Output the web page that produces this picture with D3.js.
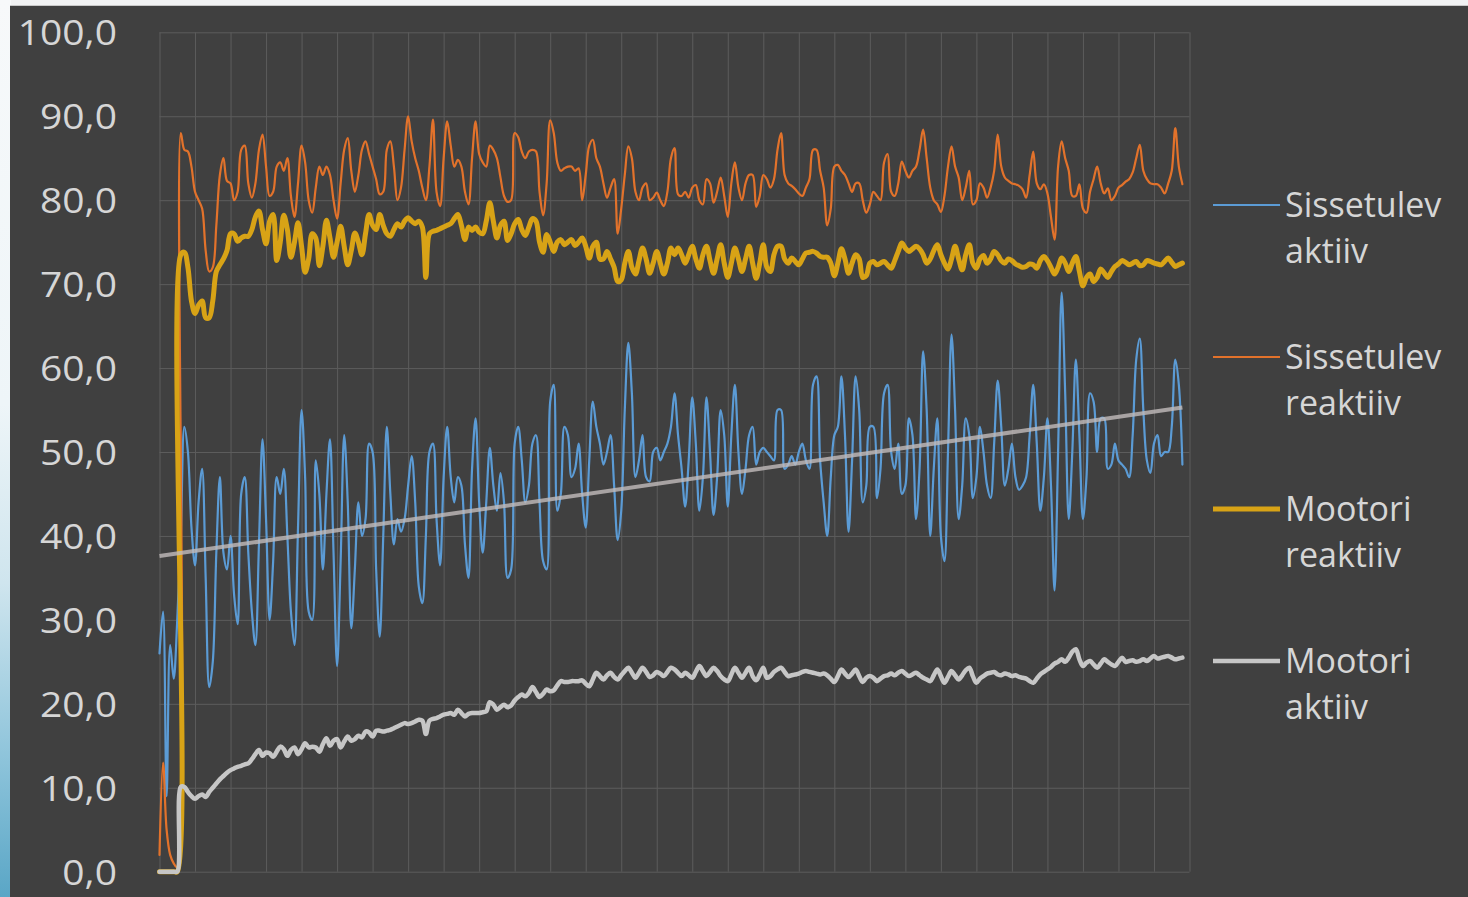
<!DOCTYPE html>
<html>
<head>
<meta charset="utf-8">
<script src="https://cdn.jsdelivr.net/npm/d3@7"></script>
<style>
  html, body { margin: 0; padding: 0; width: 1468px; height: 897px; overflow: hidden; background: #f2f4f5; }
  svg { display: block; }
</style>
</head>
<body>
<svg id="chart" width="1468" height="897"></svg>
<script>
// ---------------- DATA ----------------
const seriesNames = ["Sissetulev aktiiv", "Sissetulev reaktiiv", "Mootori reaktiiv", "Mootori aktiiv"];

const sissetulevAktiiv = [
  26, 31, 9, 27, 23, 30, 40, 53, 50, 41,
  36.5, 44, 48, 35, 22, 25, 38, 47, 38, 36,
  40, 33, 29.5, 45, 47, 38, 31, 27, 39, 51.5,
  42, 30, 37, 47, 45, 48, 40, 31, 27, 41,
  55, 47, 31, 30, 49, 45, 36, 45, 51.5, 38,
  24.5, 37, 52, 44, 29, 36, 44, 40, 42, 51,
  50, 36, 28, 40, 53, 45, 39, 42, 40.5, 42,
  46, 49.5, 44, 34, 32, 40, 50, 51, 42, 36.5,
  47, 53, 47, 44, 47, 46, 39, 35, 48, 54,
  44, 38, 44, 50.5, 46, 43, 47.5, 44, 35, 36,
  51, 53, 49, 44, 46, 51, 52, 44, 37, 36,
  56, 58, 43, 45, 53, 52, 47, 48, 51, 45,
  41, 49, 56, 53, 51, 48.5, 50, 52, 46, 39.5,
  43, 55, 63, 57, 47, 49, 52, 47, 46.5, 50,
  50.5, 49, 50, 51, 53, 57, 52, 48, 43.5, 49,
  56.5, 51, 43, 47, 56.5, 50, 42.5, 47, 55, 52,
  43.5, 52, 58, 50, 45, 48, 52, 53, 48.5, 50,
  50.5, 50, 49.5, 49, 55, 55, 48, 48.5, 49.5, 48.5,
  50, 51, 49, 48, 58, 59, 49, 44, 40, 47,
  52, 53, 59, 52, 40.5, 49, 59, 55, 44, 46,
  53, 53, 44.5, 48, 57, 58, 50, 48, 51, 45,
  46, 54, 52, 42, 48, 62, 55, 40, 48, 54,
  40, 37, 50, 64, 55, 42, 46, 54, 52, 44.5,
  47, 53, 50, 46, 44.5, 51, 58.5, 53, 46, 48,
  51, 47, 45.5, 46, 47, 52, 58, 51, 43, 47,
  54, 46, 33.5, 50, 69, 57, 42, 50, 61, 52,
  42, 47, 57, 56, 50, 54, 54, 48, 48.5, 51,
  49, 48.5, 48, 47, 52, 61, 63.5, 55, 49, 47.5,
  51, 52, 49.5, 50, 50, 53, 61, 58, 48.5
];

const sissetulevReaktiiv = [
  2, 13, 5, 2, 1, 0.5, 88, 86, 85.8, 84,
  81, 80, 79, 74, 71.5, 72, 77, 83, 85, 82.3,
  82, 80, 81, 86, 86.5, 82, 80.3, 82, 86, 87.8,
  84, 80.5, 81, 84, 84.5, 83.5, 85, 80.5, 78, 82,
  86.5, 84.5, 80, 78.5, 81.5, 84, 83, 84, 83, 80,
  77.8, 82, 86, 87.4, 83.5, 81, 83, 86, 87, 85.5,
  84, 82.5, 80.7, 81, 86, 87, 84, 80, 81.5, 86,
  90, 87, 85, 83.5, 81.5, 80, 84, 89.6, 81, 79.3,
  85, 89.4, 86.5, 84, 84.8, 84, 81, 79.5, 85, 89.4,
  85.5, 84.5, 84, 86.5, 86, 85, 82.7, 80.5, 79.8, 80,
  88, 87.5, 85.8, 85, 85.8, 86, 85.8, 81, 78.2, 82,
  89.5, 88, 84.5, 83.5, 83.8, 84, 84, 83.5, 83.8, 80,
  83, 86.5, 87.2, 85, 84, 82, 80.3, 81.5, 82.5, 76,
  79, 83, 86.4, 85, 81, 80, 81.5, 82, 80, 80.3,
  80.9, 80, 79.3, 81, 85, 86.2, 80.7, 80.5, 81, 80.3,
  81.5, 81.8, 80, 79.5, 82.5, 82, 79.7, 81, 82.7, 80.5,
  78, 82, 84.5, 81.5, 80, 82, 83, 83, 79.2, 80.5,
  83, 82.5, 81.5, 82.5, 86, 88, 83, 82, 81.7, 81.3,
  80.8, 80.5, 81.5, 82.5, 86, 86, 83.5, 81.5, 77, 79,
  84, 84.2, 83.5, 83, 82, 81, 82, 82, 80, 78.5,
  79.5, 81, 80.5, 80, 84.5, 85.5, 81, 80.5, 82, 84.6,
  83.5, 82.7, 83.5, 84, 86, 88.4, 85, 81.5, 80, 79.5,
  78.6, 80.5, 84, 86.4, 84, 82.7, 80, 81.5, 83.5, 79.5,
  80, 82, 81.5, 80.3, 81.5, 83.5, 87.8, 84, 82.7, 82.3,
  82, 81.9, 81.7, 81.3, 80.3, 83, 85.8, 82, 81.3, 81.9,
  80.8, 78, 75.3, 84, 87, 85, 83.5, 80.5, 80.5, 81.9,
  79, 78.5, 81, 82.5, 84, 82, 80.8, 81.4, 80, 80.5,
  81.5, 81.8, 82.2, 82.5, 83.3, 85, 86.6, 83.5, 82.5, 82,
  81.9, 81.9, 81.5, 80.8, 82, 83.5, 88.6, 84, 81.9
];

const mootoriReaktiiv = [
  0, 0, 0, 0, 0, 0, 73.5, 73.8, 72, 68,
  66.5, 67.5, 68, 66, 66, 68, 71.5, 72.3, 73, 74,
  76, 76, 75.1, 75.5, 75.7, 75.7, 76.5, 78, 78.7, 76.5,
  74.8, 77.5, 78.3, 72.8, 75, 78.2, 76.5, 73.2, 75, 77.3,
  74.5, 71.4, 73, 76, 75.5, 72.2, 74.5, 77.6, 75.5, 73.2,
  75, 76.9, 74.5, 72.3, 74, 76.1, 75, 73.5, 76, 78.3,
  77, 76.5, 78.3, 77, 76, 75.7, 76.5, 77.2, 76.8, 77.5,
  77.9, 77.5, 77.2, 77.5, 76.8, 70.8, 76, 76.3, 76.4, 76.6,
  76.8, 77, 77.2, 77.8, 78.3, 77, 75.3, 76.8, 76.4, 76.8,
  76.2, 76, 77.5, 79.7, 77.5, 75.5, 77, 77.5, 75.2, 76,
  77.2, 77.7, 76.5, 75.8, 76.8, 77.8, 77.5, 75, 73.8, 75.9,
  75, 73.9, 75, 75.3, 74.7, 75, 75.3, 74.6, 75, 75.5,
  74.5, 73.1, 74.5, 75, 73, 73, 73.9, 73, 72, 70.3,
  70.5, 72.5, 73.9, 72, 71.2, 72.8, 74.3, 73, 71.3, 72.5,
  73.9, 72.5, 71.2, 72.5, 74.3, 73.5, 74.3, 73.5, 72.5, 73.5,
  74.5, 73, 71.9, 73.5, 74.5, 72.8, 71.3, 73, 74.7, 72.5,
  70.8, 72.5, 74.3, 73, 71.5, 73, 74.5, 72.5, 70.7, 72.5,
  74.7, 72, 71.5, 73.5, 74.5, 74.5, 73, 72.5, 73.1, 72.7,
  72.3, 73, 73.7, 73.8, 73.9, 73.7, 73.3, 73.2, 73.2, 72.5,
  71, 72.5, 74.2, 73, 71.3, 72.5, 73.5, 73, 70.8, 71,
  72.5, 72.7, 72.3, 72.5, 72.7, 72.3, 71.9, 72.8, 73.9, 74.9,
  74.3, 73.9, 74.2, 74.5, 74.2, 73.5, 72.5, 73, 74, 74.7,
  73.5, 72.5, 71.8, 73, 74.5, 73, 71.7, 73.5, 74.7, 72.5,
  71.9, 73, 73.4, 72.5, 73, 73.9, 73.5, 72.8, 72.5, 73,
  72.8, 72.4, 72.2, 72, 72.1, 72.4, 72.3, 71.9, 72.8, 73.3,
  72.8, 72, 71.2, 72, 73.1, 72.5, 71.5, 72.5, 73.3, 71.5,
  69.8, 70.8, 71.2, 70.3, 70.8, 71.8, 71.3, 70.8, 71.5, 72.1,
  72.4, 72.8, 72.6, 72.3, 72.5, 72.7, 72.2, 72.3, 72.8, 72.7,
  72.5, 72.4, 72.3, 72.7, 73.1, 72.6, 72.1, 72.3, 72.5
];

const mootoriAktiiv = [
  0, 0, 0, 0, 0, 0, 10.1, 10.1, 9.5, 9,
  8.7, 9, 9.2, 8.9, 9.5, 10, 10.5, 11, 11.4, 11.8,
  12.1, 12.3, 12.5, 12.6, 12.8, 12.9, 13.4, 14, 14.5, 13.8,
  14.2, 14.1, 13.7, 14.3, 14.9, 14.6, 13.8, 14.5, 14.8, 14,
  14.6, 15.3, 14.8, 14.9, 14.8, 14.3, 15.2, 15.9, 15, 15.6,
  15.8, 14.8, 15.5, 16.1, 15.6, 15.8, 16.2, 16, 16.7, 16.6,
  16.1, 16.8, 16.8, 16.7, 16.8, 16.9, 17.1, 17.3, 17.5, 17.7,
  17.6, 17.7, 17.9, 18.1, 18, 16.4, 18, 18.2, 18.3, 18.5,
  18.7, 18.8, 18.9, 18.7, 19.3, 18.9, 18.5, 18.8, 18.9, 18.9,
  18.9, 19, 19.1, 20.2, 19.9, 19.3, 19.6, 19.9, 19.6, 19.8,
  20.4, 20.8, 21.1, 20.9, 21.3, 22, 21.4, 20.8, 21.2, 21.7,
  21.5, 21.6, 22.2, 22.7, 22.6, 22.6, 22.7, 22.7, 22.7, 22.8,
  22.4, 22.1, 22.9, 23.7, 23.3, 22.9, 23.4, 23.7, 23.2, 22.9,
  23.4, 23.9, 24.3, 23.7, 23.1, 23.7, 24.3, 23.8, 23.2, 23.4,
  23.8, 23.6, 23.3, 23.8, 24.3, 24.1, 23.7, 23.3, 23.7, 23.4,
  23.1, 23.8, 24.5, 23.9, 23.3, 23.8, 24.3, 23.9, 23.3, 22.9,
  22.7, 23.5, 24.3, 23.7, 23.1, 23.7, 24.3, 23.3, 22.8, 23.5,
  24.3, 23.1, 23.3, 23.8, 24.1, 24.3, 23.8, 23.3, 23.4, 23.5,
  23.6, 23.8, 23.9, 23.8, 23.7, 23.6, 23.5, 23.6, 23.4, 23,
  22.6, 23.3, 24.1, 23.6, 23.2, 23.6, 24.1, 23.3, 22.6, 23.1,
  23.3, 23.1, 22.7, 23, 23.3, 23.4, 23.6, 23.4, 23.7, 23.9,
  23.6, 23.3, 23.5, 23.7, 23.4, 23.1, 22.9, 22.7, 23.4, 24.1,
  23.3, 22.5, 23.2, 23.9, 23.4, 22.9, 23.4, 24, 24.3, 23.3,
  22.5, 23, 23.3, 23.6, 23.7, 23.8, 23.5, 23.4, 23.6, 23.5,
  23.3, 23.4, 23.2, 23.1, 23, 22.7, 22.5, 23, 23.5, 23.8,
  24.1, 24.4, 24.8, 25, 25.3, 25, 25.5, 26.2, 26.5, 25.3,
  24.5, 24.9, 25.1, 24.7, 24.3, 24.8, 25.3, 25, 24.7, 24.5,
  25, 25.5, 25, 25.1, 25.2, 25, 25.1, 25.3, 25.1, 25.4,
  25.7, 25.4, 25.5, 25.6, 25.7, 25.5, 25.3, 25.4, 25.5
];

// linear trend line of "Sissetulev aktiiv" (start and end values)
const trendEnds = [37.6, 55.3];

const yTicks = [0, 10, 20, 30, 40, 50, 60, 70, 80, 90, 100];
const categoryCount = 290;      // category slots on the x axis
const gridEvery = 10;           // a vertical gridline every 10 categories

// ---------------- DRAW ----------------
const svg = d3.select("#chart");
const W = 1468, H = 897;

const defs = svg.append("defs");
const grad = defs.append("linearGradient").attr("id", "sideGrad")
  .attr("x1", 0).attr("y1", 0).attr("x2", 0).attr("y2", 1);
grad.append("stop").attr("offset", "0%").attr("stop-color", "#f7f9fa");
grad.append("stop").attr("offset", "45%").attr("stop-color", "#eef5f8");
grad.append("stop").attr("offset", "65%").attr("stop-color", "#cfe5ee");
grad.append("stop").attr("offset", "85%").attr("stop-color", "#8cc3da");
grad.append("stop").attr("offset", "100%").attr("stop-color", "#5aa6c6");

svg.append("rect").attr("x", 0).attr("y", 0).attr("width", W).attr("height", H).attr("fill", "#f1f2f3");
svg.append("rect").attr("x", 0).attr("y", 0).attr("width", 11).attr("height", H).attr("fill", "url(#sideGrad)");
// chart area
svg.append("rect").attr("x", 10).attr("y", 6).attr("width", W - 10).attr("height", H - 6)
  .attr("fill", "#404040");
svg.append("line").attr("x1", 10).attr("x2", W).attr("y1", 5.5).attr("y2", 5.5)
  .attr("stroke", "#c9c9c9").attr("stroke-width", 1);

const x = d3.scaleLinear().domain([0, categoryCount]).range([159.5, 1189.5]);
const y = d3.scaleLinear().domain([0, 100]).range([871.7, 32.3]);

const locale = d3.formatLocale({ decimal: ",", thousands: " ", grouping: [3], currency: ["", " €"] });
const fmt = locale.format(".1f");

// horizontal gridlines via axis
const gY = svg.append("g").attr("transform", `translate(${x(0)},0)`)
  .call(d3.axisLeft(y).tickValues(yTicks).tickSize(-(x(categoryCount) - x(0))).tickFormat(""));
gY.select(".domain").remove();
gY.selectAll(".tick line").attr("stroke", "#5c5c5c").attr("stroke-width", 1);

// vertical gridlines via axis
const xTickVals = d3.range(0, categoryCount + 1, gridEvery);
const gX = svg.append("g").attr("transform", `translate(0,${y(0)})`)
  .call(d3.axisBottom(x).tickValues(xTickVals).tickSize(-(y(0) - y(100))).tickFormat(""));
gX.select(".domain").remove();
gX.selectAll(".tick line").attr("stroke", "#5c5c5c").attr("stroke-width", 1);

// y tick labels (glyphs widened slightly to match the reference's wide digits)
svg.append("g").selectAll("text").data(yTicks).join("text")
  .attr("x", 117)
  .attr("y", d => y(d) + 13)
  .attr("text-anchor", "end")
  .attr("font-family", "'Open Sans', sans-serif")
  .attr("font-size", 34.5)
  .attr("fill", "#d6d6d6")
  .text(d => fmt(d))
  .each(function () {
    const w = this.getComputedTextLength();
    d3.select(this).attr("textLength", w * 1.13).attr("lengthAdjust", "spacingAndGlyphs");
  });

const seriesData = [sissetulevAktiiv, sissetulevReaktiiv, mootoriReaktiiv, mootoriAktiiv];
const seriesColors = ["#5b9bd5", "#e2722b", "#d8a316", "#c6c6c6"];
const seriesWidths = [2.2, 2.2, 5, 4.5];

const line = d3.line()
  .x((d, i) => x(i))
  .y(d => y(d))
  .curve(d3.curveCatmullRom.alpha(0.5));

const plot = svg.append("g");
seriesData.forEach((vals, k) => {
  plot.append("path")
    .datum(vals)
    .attr("fill", "none")
    .attr("stroke", seriesColors[k])
    .attr("stroke-width", seriesWidths[k])
    .attr("stroke-linejoin", "round")
    .attr("stroke-linecap", "round")
    .attr("d", line);
});

// trend line
const lastIdx = sissetulevAktiiv.length - 1;
plot.append("line")
  .attr("x1", x(0)).attr("y1", y(trendEnds[0]))
  .attr("x2", x(lastIdx)).attr("y2", y(trendEnds[1]))
  .attr("stroke", "#c2bcbc").attr("stroke-opacity", 0.8)
  .attr("stroke-width", 4);

// legend
const legendLabels = [["Sissetulev", "aktiiv"], ["Sissetulev", "reaktiiv"], ["Mootori", "reaktiiv"], ["Mootori", "aktiiv"]];
const lg = svg.append("g");
legendLabels.forEach((lbl, k) => {
  const ly = 205 + k * 152;
  lg.append("line")
    .attr("x1", 1213).attr("x2", 1280).attr("y1", ly).attr("y2", ly)
    .attr("stroke", seriesColors[k]).attr("stroke-width", seriesWidths[k]);
  const t = lg.append("text")
    .attr("x", 1285).attr("y", ly + 12)
    .attr("font-family", "'Open Sans', sans-serif")
    .attr("font-size", 34)
    .attr("fill", "#d6d6d6");
  t.append("tspan").attr("x", 1285).attr("dy", 0).text(lbl[0]);
  t.append("tspan").attr("x", 1285).attr("dy", 46).text(lbl[1]);
});
</script>
</body>
</html>
